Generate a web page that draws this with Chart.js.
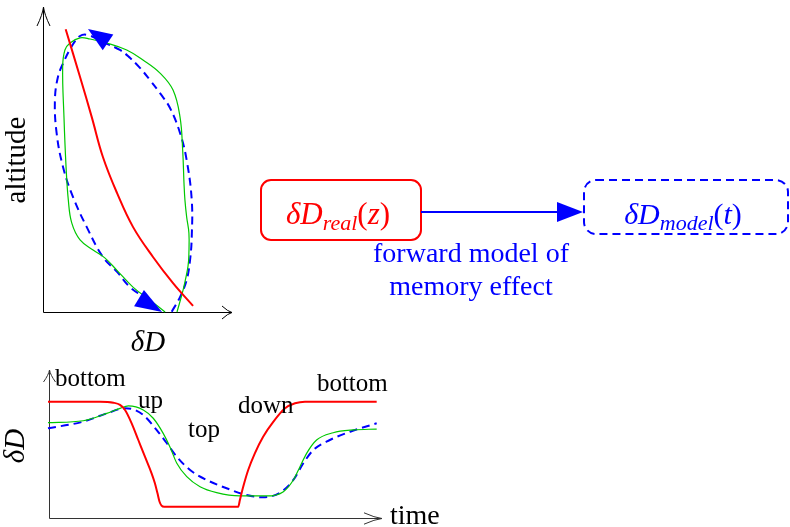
<!DOCTYPE html>
<html>
<head>
<meta charset="utf-8">
<script src="https://cdn.jsdelivr.net/npm/chart.js@4.4.1/dist/chart.umd.min.js"></script>
<style>
  html, body { margin: 0; padding: 0; background: #fff; }
  #stage { position: relative; width: 790px; height: 527px; overflow: hidden; }
  #cLoop { position: absolute; left: 0; top: 0; }
  #cTime { position: absolute; left: 0; top: 360px; }
  #flow  { position: absolute; left: 0; top: 0; pointer-events: none; }
</style>
</head>
<body>
<div id="stage">
  <canvas id="cLoop" width="250" height="360"></canvas>
  <canvas id="cTime" width="450" height="167"></canvas>
  <svg id="flow" width="790" height="527" xmlns="http://www.w3.org/2000/svg"
       font-family="'Liberation Serif', serif">
    <!-- real profile box -->
    <rect x="261" y="180" width="160" height="60" rx="10" ry="10"
          fill="none" stroke="#ff0000" stroke-width="2"/>
    <text x="338" y="224" fill="#ff0000" font-size="31" text-anchor="middle"><tspan font-style="italic">δD</tspan><tspan font-style="italic" font-size="22" dy="6">real</tspan><tspan dy="-6">(</tspan><tspan font-style="italic">z</tspan>)</text>
    <!-- forward model arrow -->
    <line x1="421" y1="212" x2="560" y2="212" stroke="#0000ff" stroke-width="2"/>
    <polygon points="557,202 583,212 557,222" fill="#0000ff"/>
    <!-- modelled record box -->
    <rect x="584" y="180" width="204" height="54" rx="12" ry="12"
          fill="none" stroke="#0000ff" stroke-width="2" stroke-dasharray="8 5"/>
    <text x="683" y="224" fill="#0000ff" font-size="30" text-anchor="middle"><tspan font-style="italic">δD</tspan><tspan font-style="italic" font-size="22" dy="6">model</tspan><tspan dy="-6">(</tspan><tspan font-style="italic">t</tspan>)</text>
    <text x="471" y="262" fill="#0000ff" font-size="28" text-anchor="middle">forward model of</text>
    <text x="471" y="295" fill="#0000ff" font-size="28" text-anchor="middle">memory effect</text>
  </svg>
</div>

<script>
// ---- altitude profile panel: δD against altitude ----
const realDeltaD   = [1.20, 1.96, 2.58, 3.17, 3.92, 4.76, 5.82, 6.88, 7.94];
const realAltitude = [9.30, 7.73, 6.41, 5.10, 3.91, 2.80, 1.81, 0.95, 0.20];

const measuredDeltaD   = [6.46, 5.66, 4.76, 3.90, 3.27, 2.65, 1.96, 1.52, 1.34, 1.22, 1.11, 1.04,
                          1.16, 1.43, 1.96, 2.49, 3.37, 4.43, 5.29, 6.19, 6.88, 7.25, 7.39, 7.46,
                          7.51, 7.60, 7.72, 7.72, 7.67, 7.41, 7.09];
const measuredAltitude = [0.00, 0.39, 0.82, 1.38, 1.78, 2.04, 2.37, 2.93, 3.68, 4.77, 6.41, 8.06,
                          8.62, 8.85, 9.02, 8.98, 8.85, 8.62, 8.29, 7.86, 7.30, 6.41, 5.33, 4.24,
                          3.68, 3.13, 2.60, 1.94, 1.49, 0.72, 0.00];

const modelDeltaD   = [6.81, 7.25, 7.60, 7.78, 7.87, 7.87, 7.60, 7.25, 6.72, 6.19, 5.66, 5.13,
                       4.60, 4.07, 3.17, 2.38, 1.96, 1.53, 1.07, 0.79, 0.63, 0.72, 1.06, 1.59,
                       2.31, 3.17, 3.92, 4.60, 5.40, 6.19];
const modelAltitude = [0.01, 0.49, 1.05, 1.71, 2.48, 3.68, 5.00, 5.89, 6.71, 7.20, 7.63, 8.03,
                       8.36, 8.62, 8.88, 9.11, 9.08, 8.75, 8.19, 7.73, 6.97, 5.89, 4.77, 3.78,
                       2.80, 1.81, 1.32, 0.82, 0.46, 0.00];

// direction arrows on the modelled loop (tip and tail in δD / altitude units)
const loopArrowTipDeltaD  = [2.38, 6.30];
const loopArrowTipAlt     = [9.31, 0.00];
const loopArrowTailDeltaD = [3.44, 5.08];
const loopArrowTailAlt    = [8.87, 0.46];

// ---- time series panel: δD against time ----
const realTime  = [0.00, 1.57, 1.97, 2.17, 2.32, 2.52, 2.72, 2.92, 3.12, 3.22, 3.30, 3.36, 3.42, 3.50,
                   5.58, 5.73, 5.78, 5.88, 6.03, 6.23, 6.48, 6.79, 7.14, 7.44, 7.74, 9.90];
const realSeries = [7.86, 7.86, 7.79, 7.64, 7.30, 6.40, 5.27, 4.14, 3.02, 2.35, 1.65, 1.10, 0.84, 0.76,
                    0.76, 0.76, 1.22, 2.11, 3.24, 4.37, 5.49, 6.51, 7.41, 7.75, 7.86, 7.86];

const measuredTime   = [0.00, 1.06, 1.77, 2.17, 2.42, 2.87, 3.17, 3.47, 3.67, 3.88, 4.18, 4.58,
                        5.08, 5.78, 6.59, 7.09, 7.39, 7.59, 7.79, 8.09, 8.59, 9.20, 9.90];
const measuredSeries = [6.44, 6.57, 7.07, 7.41, 7.57, 7.30, 6.74, 5.72, 4.82, 3.70, 2.79, 2.11,
                        1.71, 1.49, 1.49, 1.78, 2.57, 3.47, 4.37, 5.27, 5.76, 5.95, 6.01];

const modelTime   = [0.00, 1.06, 1.77, 2.32, 2.57, 2.87, 3.27, 3.58, 3.88, 4.28, 4.78, 5.38,
                     5.98, 6.48, 6.99, 7.39, 7.69, 7.99, 8.49, 9.10, 9.90];
const modelSeries = [6.06, 6.51, 7.07, 7.41, 7.34, 6.96, 5.95, 5.05, 4.14, 3.24, 2.57, 2.01,
                     1.55, 1.40, 1.71, 2.57, 3.70, 4.59, 5.27, 5.83, 6.40];

// flight phase labels anchored on the time series
const phaseNames = ['bottom', 'up', 'top', 'down', 'bottom'];
const phaseTime  = [0.21, 2.71, 4.22, 5.72, 8.10];
const phaseLevel = [8.92, 7.43, 5.47, 7.09, 8.58];

const RED = '#ff0000', GREEN = '#00c800', BLUE = '#0000ff';
const SERIF = "'Liberation Serif', 'Times New Roman', serif";

const pts = (xs, ys) => xs.map((x, i) => ({ x, y: ys[i] }));

// open arrow head used on the axes
function openHead(ctx, tx, ty, dx, dy, len, half) {
  const n = Math.hypot(dx, dy), ux = dx / n, uy = dy / n;
  const bx = tx - ux * len, by = ty - uy * len;
  ctx.beginPath();
  ctx.moveTo(bx - uy * half, by + ux * half);
  ctx.quadraticCurveTo(tx - ux * len * 0.4 - uy * half * 0.15, ty - uy * len * 0.4 + ux * half * 0.15, tx, ty);
  ctx.quadraticCurveTo(tx - ux * len * 0.4 + uy * half * 0.15, ty - uy * len * 0.4 - ux * half * 0.15, bx + uy * half, by - ux * half);
  ctx.stroke();
}

// axes with arrow tips and the axis captions
const arrowAxes = {
  id: 'arrowAxes',
  beforeDatasetsDraw(chart, args, o) {
    const { ctx, chartArea: a } = chart;
    const xs = chart.scales.x, ys = chart.scales.y;
    const ox = Math.round(xs.getPixelForValue(0)) + 0.5 + o.shiftX;
    const oy = Math.round(ys.getPixelForValue(0)) + 0.5;
    const xEnd = a.right + o.xOver, yEnd = a.top - o.yOver;
    ctx.save();
    ctx.strokeStyle = o.color;
    ctx.lineWidth = 1;
    ctx.beginPath();
    ctx.moveTo(ox, oy); ctx.lineTo(xEnd, oy);
    ctx.moveTo(ox, oy); ctx.lineTo(ox, yEnd);
    ctx.stroke();
    openHead(ctx, xEnd, oy, 1, 0, o.xHead[0], o.xHead[1]);
    openHead(ctx, ox, yEnd, 0, -1, o.yHead[0], o.yHead[1]);

    ctx.fillStyle = '#000';
    // vertical caption
    ctx.save();
    ctx.translate(a.left + o.yTitle.dx, (a.top + a.bottom) / 2 + o.yTitle.dy);
    ctx.rotate(-Math.PI / 2);
    ctx.textAlign = 'center';
    ctx.textBaseline = 'middle';
    ctx.font = o.yTitle.font;
    ctx.fillText(o.yTitle.text, 0, 0);
    ctx.restore();
    // horizontal caption
    ctx.font = o.xTitle.font;
    ctx.textAlign = o.xTitle.align;
    ctx.textBaseline = 'middle';
    ctx.fillText(o.xTitle.text, a.left + o.xTitle.dx, a.bottom + o.xTitle.dy);
    ctx.restore();
  }
};

// filled direction arrows placed on the modelled loop
const loopArrows = {
  id: 'loopArrows',
  afterDatasetsDraw(chart, args, o) {
    if (!o.tipX) return;
    const { ctx } = chart;
    const xs = chart.scales.x, ys = chart.scales.y;
    ctx.save();
    ctx.fillStyle = o.color;
    o.tipX.forEach((_, i) => {
      const tx = xs.getPixelForValue(o.tipX[i]), ty = ys.getPixelForValue(o.tipY[i]);
      const bx = xs.getPixelForValue(o.tailX[i]), by = ys.getPixelForValue(o.tailY[i]);
      const dx = tx - bx, dy = ty - by, n = Math.hypot(dx, dy);
      const px = -dy / n * o.half, py = dx / n * o.half;
      ctx.beginPath();
      ctx.moveTo(tx, ty);
      ctx.lineTo(bx + px, by + py);
      ctx.lineTo(bx - px, by - py);
      ctx.closePath();
      ctx.fill();
    });
    ctx.restore();
  }
};

// phase names written at their spot on the time axis
const phaseText = {
  id: 'phaseText',
  afterDatasetsDraw(chart, args, o) {
    if (!o.names) return;
    const { ctx } = chart;
    const xs = chart.scales.x, ys = chart.scales.y;
    ctx.save();
    ctx.fillStyle = '#000';
    ctx.font = o.font;
    ctx.textAlign = 'left';
    ctx.textBaseline = 'alphabetic';
    o.names.forEach((t, i) => ctx.fillText(t, xs.getPixelForValue(o.x[i]), ys.getPixelForValue(o.y[i])));
    ctx.restore();
  }
};

const hiddenScales = {
  x: { type: 'linear', display: false, min: 0, max: 10 },
  y: { type: 'linear', display: false, min: 0, max: 10 }
};

const line = (label, data, color, width, extra) => Object.assign({
  label, data, borderColor: color, backgroundColor: color, borderWidth: width,
  showLine: true, pointRadius: 0, fill: false, clip: false
}, extra || {});

new Chart(document.getElementById('cLoop'), {
  type: 'scatter',
  data: {
    datasets: [
      line('real', pts(realDeltaD, realAltitude), RED, 2, { tension: 0.4 }),
      line('measured', pts(measuredDeltaD, measuredAltitude), GREEN, 1.2, { tension: 0.4 }),
      line('model', pts(modelDeltaD, modelAltitude), BLUE, 2, { tension: 0.4, borderDash: [8, 5] })
    ]
  },
  options: {
    responsive: false, animation: false, events: [],
    layout: { padding: { left: 43, right: 18, top: 8, bottom: 48 } },
    scales: hiddenScales,
    plugins: {
      legend: { display: false }, tooltip: { enabled: false },
      arrowAxes: {
        color: '#000', shiftX: 0, xOver: 0, yOver: 1,
        xHead: [10, 6.5], yHead: [19, 6.5],
        yTitle: { text: 'altitude', font: '29px ' + SERIF, dx: -26, dy: 0 },
        xTitle: { text: 'δD', font: 'italic 29px ' + SERIF, dx: 105, dy: 31, align: 'center' }
      },
      loopArrows: {
        color: BLUE, half: 9.5,
        tipX: loopArrowTipDeltaD, tipY: loopArrowTipAlt,
        tailX: loopArrowTailDeltaD, tailY: loopArrowTailAlt
      }
    }
  },
  plugins: [arrowAxes, loopArrows]
});

new Chart(document.getElementById('cTime'), {
  type: 'scatter',
  data: {
    datasets: [
      line('real', pts(realTime, realSeries), RED, 2, { cubicInterpolationMode: 'monotone' }),
      line('measured', pts(measuredTime, measuredSeries), GREEN, 1.2, { cubicInterpolationMode: 'monotone' }),
      line('model', pts(modelTime, modelSeries), BLUE, 2, { cubicInterpolationMode: 'monotone', borderDash: [8, 5] })
    ]
  },
  options: {
    responsive: false, animation: false, events: [],
    layout: { padding: { left: 48, right: 70, top: 10, bottom: 9 } },
    scales: hiddenScales,
    plugins: {
      legend: { display: false }, tooltip: { enabled: false },
      arrowAxes: {
        color: '#333', shiftX: 1, xOver: 2, yOver: 0,
        xHead: [18, 5.7], yHead: [12, 6],
        yTitle: { text: 'δD', font: 'italic 29px ' + SERIF, dx: -32, dy: 2 },
        xTitle: { text: 'time', font: '28px ' + SERIF, dx: 342, dy: -1, align: 'left' }
      },
      phaseText: { names: phaseNames, x: phaseTime, y: phaseLevel, font: '25px ' + SERIF }
    }
  },
  plugins: [arrowAxes, phaseText]
});
</script>
</body>
</html>
